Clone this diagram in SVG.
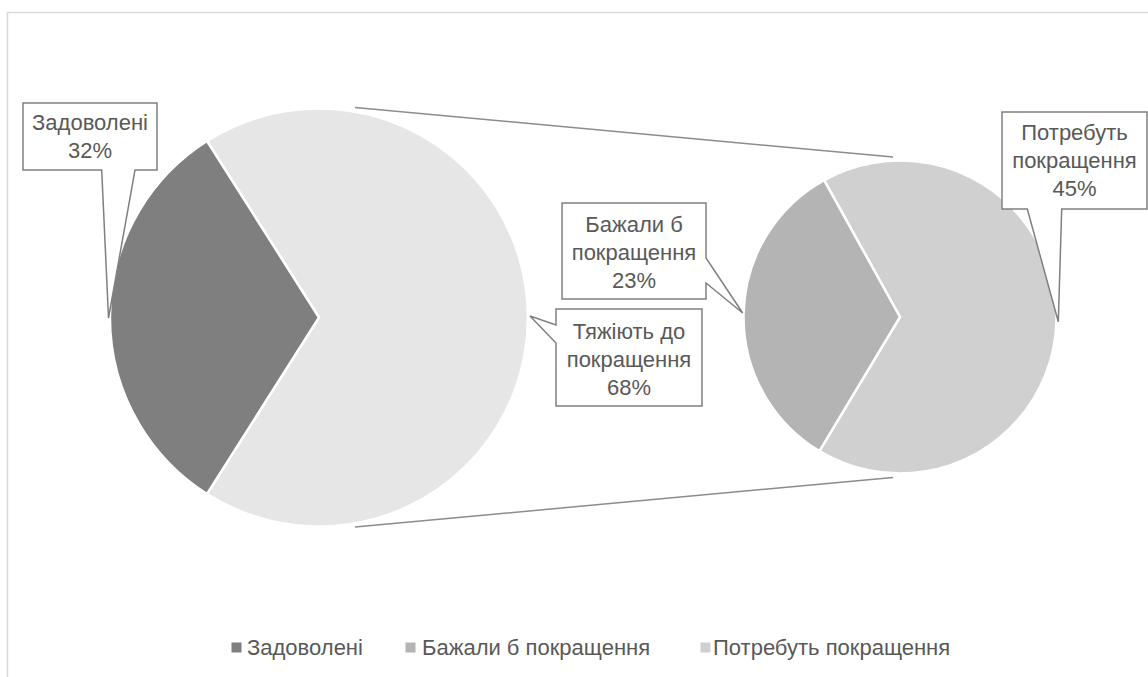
<svg xmlns="http://www.w3.org/2000/svg" width="1148" height="677" viewBox="0 0 1148 677">
  <style>
    .lbl { font-family: "Liberation Sans", Arial, sans-serif; font-size: 22px; fill: #595959; }
    .mid { text-anchor: middle; }
    .slice { stroke: #ffffff; stroke-width: 2.5; stroke-linejoin: miter; }
    .callout { fill: #ffffff; stroke: #808080; stroke-width: 1.5; }
    .conn { fill: none; stroke: #8c8c8c; stroke-width: 1.5; }
  </style>
  <rect x="0" y="0" width="1148" height="677" fill="#ffffff"/>
  <path d="M7.5,677 V12.5 H1148" fill="none" stroke="#d9d9d9" stroke-width="1.5"/>

  <g id="connectors">
    <line class="conn" x1="355" y1="107.5" x2="893" y2="157"/>
    <line class="conn" x1="355" y1="527" x2="893" y2="477.5"/>
  </g>

  <g id="pie-main">
    <path id="slice-other" class="slice" fill="#e6e6e6" d="M319,317.5 L207,141 A209,209 0 1,1 207,494 Z"/>
    <path id="slice-zadovoleni" class="slice" fill="#7f7f7f" d="M319,317.5 L207,141 A209,209 0 0,0 207,494 Z"/>
  </g>

  <g id="pie-secondary">
    <path id="slice-potrebut" class="slice" fill="#d0d0d0" d="M900,317 L824.1,180.1 A156.5,156.5 0 1,1 819.4,451.1 Z"/>
    <path id="slice-bazhaly" class="slice" fill="#b4b4b4" d="M900,317 L824.1,180.1 A156.5,156.5 0 0,0 819.4,451.1 Z"/>
  </g>

  <g id="callout-zadovoleni">
    <path class="callout" d="M23,103 H157 V170 H135 L108.5,318 L101.7,170 H23 Z"/>
    <text class="lbl mid" x="90" y="130">Задоволені</text>
    <text class="lbl mid" x="90" y="158">32%</text>
  </g>

  <g id="callout-tyazhiyut">
    <path class="callout" d="M556,309 H702 V406 H556 V343 L530,316 L556,325 Z"/>
    <text class="lbl mid" x="629" y="339">Тяжіють до</text>
    <text class="lbl mid" x="629" y="367">покращення</text>
    <text class="lbl mid" x="629" y="395">68%</text>
  </g>

  <g id="callout-bazhaly">
    <path class="callout" d="M562,203 H706 V258 L742.7,313 L706,283 V299 H562 Z"/>
    <text class="lbl mid" x="634" y="232">Бажали б</text>
    <text class="lbl mid" x="634" y="260">покращення</text>
    <text class="lbl mid" x="634" y="288">23%</text>
  </g>

  <g id="callout-potrebut">
    <path class="callout" d="M1002,112 H1147 V209 H1061.7 L1058.3,321.7 L1027.3,209 H1002 Z"/>
    <text class="lbl mid" x="1074.5" y="140">Потребуть</text>
    <text class="lbl mid" x="1074.5" y="168">покращення</text>
    <text class="lbl mid" x="1074.5" y="196">45%</text>
  </g>

  <g id="legend">
    <rect x="231.5" y="642.5" width="10" height="10" fill="#7f7f7f"/>
    <text class="lbl" x="247" y="655">Задоволені</text>
    <rect x="405.5" y="642.5" width="10" height="10" fill="#b4b4b4"/>
    <text class="lbl" x="422" y="655">Бажали б покращення</text>
    <rect x="700.5" y="642.5" width="10" height="10" fill="#d0d0d0"/>
    <text class="lbl" x="713" y="655">Потребуть покращення</text>
  </g>
</svg>
